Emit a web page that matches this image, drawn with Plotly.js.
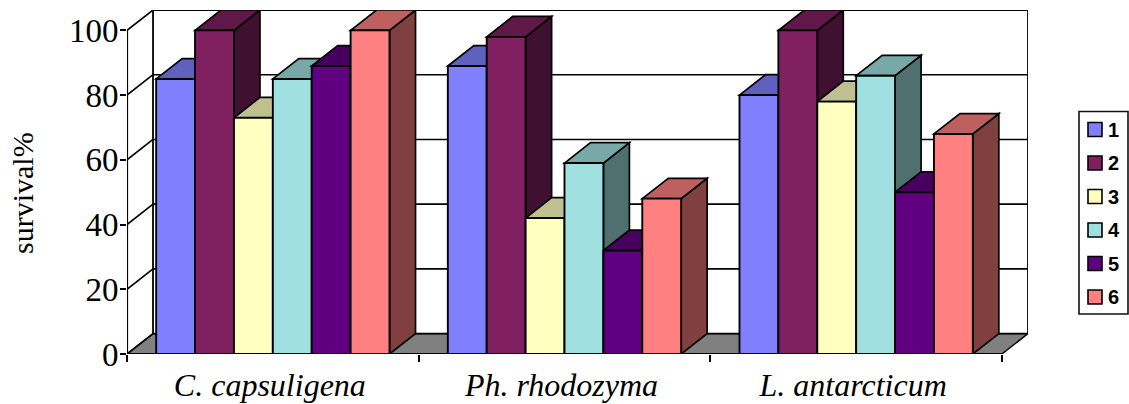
<!DOCTYPE html>
<html>
<head>
<meta charset="utf-8">
<script src="https://cdn.plot.ly/plotly-3.0.1.min.js"></script>
<style>html,body{margin:0;padding:0;background:#fff}#chart{width:1129px;height:404px}</style>
</head>
<body>
<div id="chart"></div>
<script>
// Survival of three yeast species across six treatments, in a box-style bar layout.
const species = ['C. capsuligena', 'Ph. rhodozyma', 'L. antarcticum'];
const treatmentNames = ['1', '2', '3', '4', '5', '6'];
const treatment1 = [85, 89, 80];
const treatment2 = [100, 98, 100];
const treatment3 = [73, 42, 78];
const treatment4 = [85, 59, 86];
const treatment5 = [89, 32, 50];
const treatment6 = [100, 48, 68];
const yTicks = [0, 20, 40, 60, 80, 100];

const frontColors = ['#8080FF', '#802060', '#FFFFC0', '#A0E0E0', '#600080', '#FF8080'];
const topColors = ['#6060BF', '#601848', '#BFBF90', '#78A8A8', '#480060', '#BF6060'];
const sideColors = ['#404080', '#401030', '#808060', '#507070', '#300040', '#804040'];

const allSeries = [treatment1, treatment2, treatment3, treatment4, treatment5, treatment6];

// Depth offset of the box, in axis units
const depthX = 0.0892;
const depthY = 6.3;
const xMin = -0.5;
const xMax = species.length - 0.5;

const barGap = 0.2;
const barWidth = (1 - barGap) / allSeries.length;
const edge = '#000';

const traces = allSeries.map((values, s) => ({
  type: 'bar',
  name: treatmentNames[s],
  x: species,
  y: values,
  marker: {color: frontColors[s], line: {color: edge, width: 1.9}},
  hoverinfo: 'x+y+name'
}));

const shapes = [];
const poly = (pts) => 'M' + pts.map(p => p[0] + ',' + p[1]).join('L') + 'Z';
const addLine = (x0, y0, x1, y1, layer, width) => shapes.push({
  type: 'line', xref: 'x', yref: 'y', x0, y0, x1, y1, layer,
  line: {color: edge, width: width}
});

// Floor, back wall and left wall
shapes.push({
  type: 'path', xref: 'x', yref: 'y', layer: 'below',
  path: poly([[xMin, 0], [xMin + depthX, depthY], [xMax + depthX, depthY], [xMax, 0]]),
  fillcolor: '#808080', line: {color: edge, width: 1.4}
});
yTicks.forEach((v) => {
  addLine(xMin + depthX, v + depthY, xMax + depthX, v + depthY, 'below', v === 100 ? 2.2 : 1.6);
  addLine(xMin, v, xMin + depthX, v + depthY, 'below', 1.6);
});
addLine(xMin + depthX, depthY, xMin + depthX, 100 + depthY, 'below', 1.8);
addLine(xMax + depthX, depthY, xMax + depthX, 100 + depthY, 'below', 1.8);
addLine(xMin, 0, xMin, 100, 'below', 2.2);

// Top and side faces go left to right so each bar overlaps its left neighbour
species.forEach((_, g) => {
  allSeries.forEach((values, s) => {
    const v = values[g];
    const left = g - (1 - barGap) / 2 + s * barWidth;
    const right = left + barWidth;
    shapes.push({
      type: 'path', xref: 'x', yref: 'y', layer: 'below',
      path: poly([[right, 0], [right + depthX, depthY], [right + depthX, v + depthY], [right, v]]),
      fillcolor: sideColors[s], line: {color: edge, width: 1.7}
    });
    shapes.push({
      type: 'path', xref: 'x', yref: 'y', layer: 'below',
      path: poly([[left, v], [left + depthX, v + depthY], [right + depthX, v + depthY], [right, v]]),
      fillcolor: topColors[s], line: {color: edge, width: 1.7}
    });
  });
});

// Front edge of the base runs over the bars
addLine(xMin, 0, xMax, 0, 'above', 2.2);

// Legend panel, placed in pixels of the page
const plotLeft = 127, plotWidth = 901, plotTop = 10, plotHeight = 344;
const pageX = (px) => (px - plotLeft) / plotWidth;
const pageY = (py) => 1 - (py - plotTop) / plotHeight;
const annotations = [];
shapes.push({
  type: 'rect', xref: 'paper', yref: 'paper', layer: 'above',
  x0: pageX(1079), x1: pageX(1128), y0: pageY(111.5), y1: pageY(314),
  fillcolor: '#fff', line: {color: '#111', width: 1.6}
});
treatmentNames.forEach((name, s) => {
  const cy = 129.5 + s * 33.5;
  shapes.push({
    type: 'rect', xref: 'paper', yref: 'paper', layer: 'above',
    x0: pageX(1088), x1: pageX(1102), y0: pageY(cy - 7), y1: pageY(cy + 7),
    fillcolor: frontColors[s], line: {color: edge, width: 1.6}
  });
  annotations.push({
    xref: 'paper', yref: 'paper', x: pageX(1106), y: pageY(cy),
    xanchor: 'left', yanchor: 'middle', showarrow: false, text: '<b>' + name + '</b>',
    font: {family: 'Liberation Sans, Arial, sans-serif', size: 20, color: '#000'}
  });
});

// Value axis caption
annotations.push({
  xref: 'paper', yref: 'paper', x: pageX(23), y: pageY(193),
  xanchor: 'center', yanchor: 'middle', showarrow: false, textangle: -90,
  text: 'survival%',
  font: {family: 'Liberation Serif, Times New Roman, serif', size: 30, color: '#000'}
});

const layout = {
  width: 1129,
  height: 404,
  margin: {l: plotLeft, r: 1129 - plotLeft - plotWidth, t: plotTop, b: 404 - plotTop - plotHeight, pad: 0},
  paper_bgcolor: '#fff',
  plot_bgcolor: '#fff',
  barmode: 'group',
  bargap: barGap,
  bargroupgap: 0,
  showlegend: false,
  xaxis: {
    type: 'category',
    range: [xMin, xMax + depthX],
    tickson: 'boundaries',
    ticks: 'outside', ticklen: 7, tickwidth: 2, tickcolor: '#000',
    showgrid: false, zeroline: false, showline: false,
    ticklabelshift: -3,
    ticklabelstandoff: 9,
    tickfont: {family: 'Liberation Serif, Times New Roman, serif', size: 32, color: '#000', style: 'italic'}
  },
  yaxis: {
    range: [0, 100 + depthY],
    tickmode: 'array', tickvals: yTicks,
    ticks: 'outside', ticklen: 6, tickwidth: 2, tickcolor: '#000',
    showgrid: false, zeroline: false, showline: false,
    ticklabelstandoff: -5,
    tickfont: {family: 'Liberation Serif, Times New Roman, serif', size: 33, color: '#000'}
  },
  shapes: shapes,
  annotations: annotations
};

Plotly.newPlot('chart', traces, layout, {displayModeBar: false, staticPlot: true});
</script>
</body>
</html>
